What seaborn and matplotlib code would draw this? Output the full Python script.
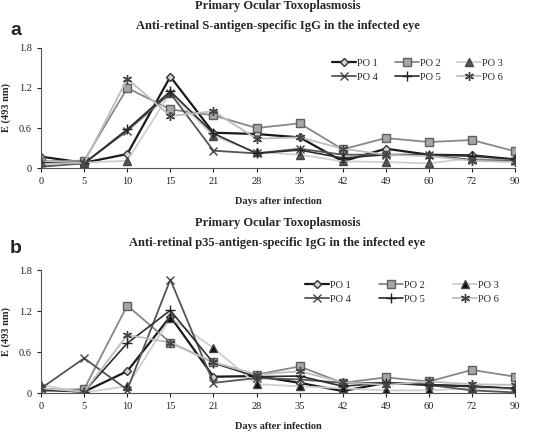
import matplotlib
matplotlib.use('Agg')
import matplotlib.pyplot as plt
import seaborn as sns
import pandas as pd

# Days after infection (categorical axis)
days = ['0', '5', '10', '15', '21', '28', '35', '42', '49', '60', '72', '90']
patients = ['PO 1', 'PO 2', 'PO 3', 'PO 4', 'PO 5', 'PO 6']

# Panel a: anti-retinal S-antigen-specific IgG
s_po1 = [0.17, 0.08, 0.21, 1.37, 0.53, 0.51, 0.46, 0.10, 0.29, 0.20, 0.19, 0.13]
s_po2 = [0.10, 0.11, 1.20, 0.88, 0.79, 0.60, 0.67, 0.28, 0.45, 0.39, 0.42, 0.25]
s_po3 = [0.09, 0.08, 0.11, 1.13, 0.48, 0.24, 0.20, 0.10, 0.09, 0.07, 0.15, 0.12]
s_po4 = [0.02, 0.07, 0.56, 1.12, 0.26, 0.22, 0.29, 0.20, 0.20, 0.20, 0.12, 0.11]
s_po5 = [0.08, 0.07, 0.58, 1.15, 0.52, 0.22, 0.27, 0.15, 0.20, 0.20, 0.18, 0.13]
s_po6 = [0.06, 0.08, 1.34, 0.78, 0.85, 0.44, 0.46, 0.29, 0.20, 0.18, 0.11, 0.09]

# Panel b: anti-retinal p35-antigen-specific IgG
p_po1 = [0.06, 0.02, 0.32, 1.12, 0.24, 0.25, 0.15, 0.03, 0.15, 0.12, 0.10, 0.06]
p_po2 = [0.04, 0.06, 1.28, 0.74, 0.45, 0.27, 0.39, 0.15, 0.23, 0.17, 0.34, 0.24]
p_po3 = [0.12, 0.01, 0.10, 1.10, 0.66, 0.13, 0.10, 0.07, 0.04, 0.04, 0.07, 0.06]
p_po4 = [0.07, 0.51, 0.05, 1.66, 0.15, 0.22, 0.20, 0.15, 0.15, 0.12, 0.04, 0.01]
p_po5 = [0.04, 0.02, 0.73, 1.21, 0.44, 0.24, 0.25, 0.10, 0.15, 0.12, 0.10, 0.07]
p_po6 = [0.07, 0.02, 0.85, 0.74, 0.45, 0.27, 0.32, 0.16, 0.12, 0.17, 0.13, 0.12]

panel_a = [s_po1, s_po2, s_po3, s_po4, s_po5, s_po6]
panel_b = [p_po1, p_po2, p_po3, p_po4, p_po5, p_po6]

# line / marker styles per patient
styles = {
    'PO 1': dict(color='#1a1a1a', marker='D', mfc='#d4d4d4', mec='#333333', ms=4.5, lw=1.6),
    'PO 2': dict(color='#888888', marker='s', mfc='#a6a6a6', mec='#606060', ms=5.5, lw=1.3),
    'PO 3': dict(color='#cfcfcf', marker='^', mfc='#555555', mec='#444444', ms=5.5, lw=1.3),
    'PO 4': dict(color='#555555', marker='x', mfc='none', mec='#444444', ms=6, lw=1.3),
    'PO 5': dict(color='#2e2e2e', marker='+', mfc='none', mec='#222222', ms=6.5, lw=1.2),
    'PO 6': dict(color='#bdbdbd', marker=(6, 2, 0), mfc='none', mec='#444444', ms=6.5, lw=1.3),
}

sns.set_style('white')
plt.rcParams['font.family'] = ['Liberation Serif', 'DejaVu Serif']

fig = plt.figure(figsize=(5.55, 4.32), dpi=100)
ax_a = fig.add_axes([0.074, 0.611, 0.854, 0.278])
ax_b = fig.add_axes([0.074, 0.090, 0.854, 0.285])


def draw_panel(ax, series, tri_face, colspace, anchor):
    for name, vals in zip(patients, series):
        st = styles[name]
        mfc = tri_face if name == 'PO 3' else st['mfc']
        df = pd.DataFrame({'day': days, 'E': vals})
        sns.lineplot(data=df, x='day', y='E', sort=False, ax=ax, label=name,
                     color=st['color'], linewidth=st['lw'], marker=st['marker'],
                     markersize=st['ms'], markerfacecolor=mfc,
                     markeredgecolor=st['mec'], markeredgewidth=1.0)
    ax.set_xlim(0, len(days) - 1)
    ax.set_ylim(0, 1.8)
    ax.set_yticks([0, 0.6, 1.2, 1.8])
    ax.set_yticklabels(['0', '0.6', '1.2', '1.8'])
    ax.set_xlabel('Days after infection', fontsize=7.5, fontweight='bold', labelpad=8)
    ax.set_ylabel('E (493 nm)', fontsize=7.5, fontweight='bold', labelpad=6)
    ax.tick_params(axis='both', labelsize=7.5, length=3, width=0.8, direction='out',
                   bottom=True, left=True, colors='#222222')
    for sp in ['top', 'right']:
        ax.spines[sp].set_visible(False)
    for sp in ['left', 'bottom']:
        ax.spines[sp].set_color('#555555')
        ax.spines[sp].set_linewidth(0.8)
    # legend rows: PO 1-3 on top, PO 4-6 below
    handles, labels = ax.get_legend_handles_labels()
    order = [0, 3, 1, 4, 2, 5]
    ax.legend([handles[i] for i in order], [labels[i] for i in order],
              ncol=3, frameon=False, fontsize=7.5, handlelength=2.3,
              columnspacing=colspace, labelspacing=0.45, handletextpad=0.1,
              loc='upper right', bbox_to_anchor=anchor)


draw_panel(ax_a, panel_a, '#555555', 1.6, (0.995, 0.99))
draw_panel(ax_b, panel_b, '#111111', 2.7, (0.985, 0.99))

# titles
for y1, y2, sub in [(0.985, 0.94, 'Anti-retinal S-antigen-specific IgG in the infected eye'),
                    (0.483, 0.438, 'Anti-retinal p35-antigen-specific IgG in the infected eye')]:
    fig.text(0.5, y1, 'Primary Ocular Toxoplasmosis', ha='center', va='center',
             fontsize=9, fontweight='bold')
    fig.text(0.5, y2, sub, ha='center', va='center', fontsize=9, fontweight='bold')

fig.text(0.018, 0.93, 'a', fontsize=14, fontweight='bold', family='Liberation Sans',
         ha='left', va='center')
fig.text(0.018, 0.424, 'b', fontsize=14, fontweight='bold', family='Liberation Sans',
         ha='left', va='center')

fig.savefig('out.png', dpi=100)
